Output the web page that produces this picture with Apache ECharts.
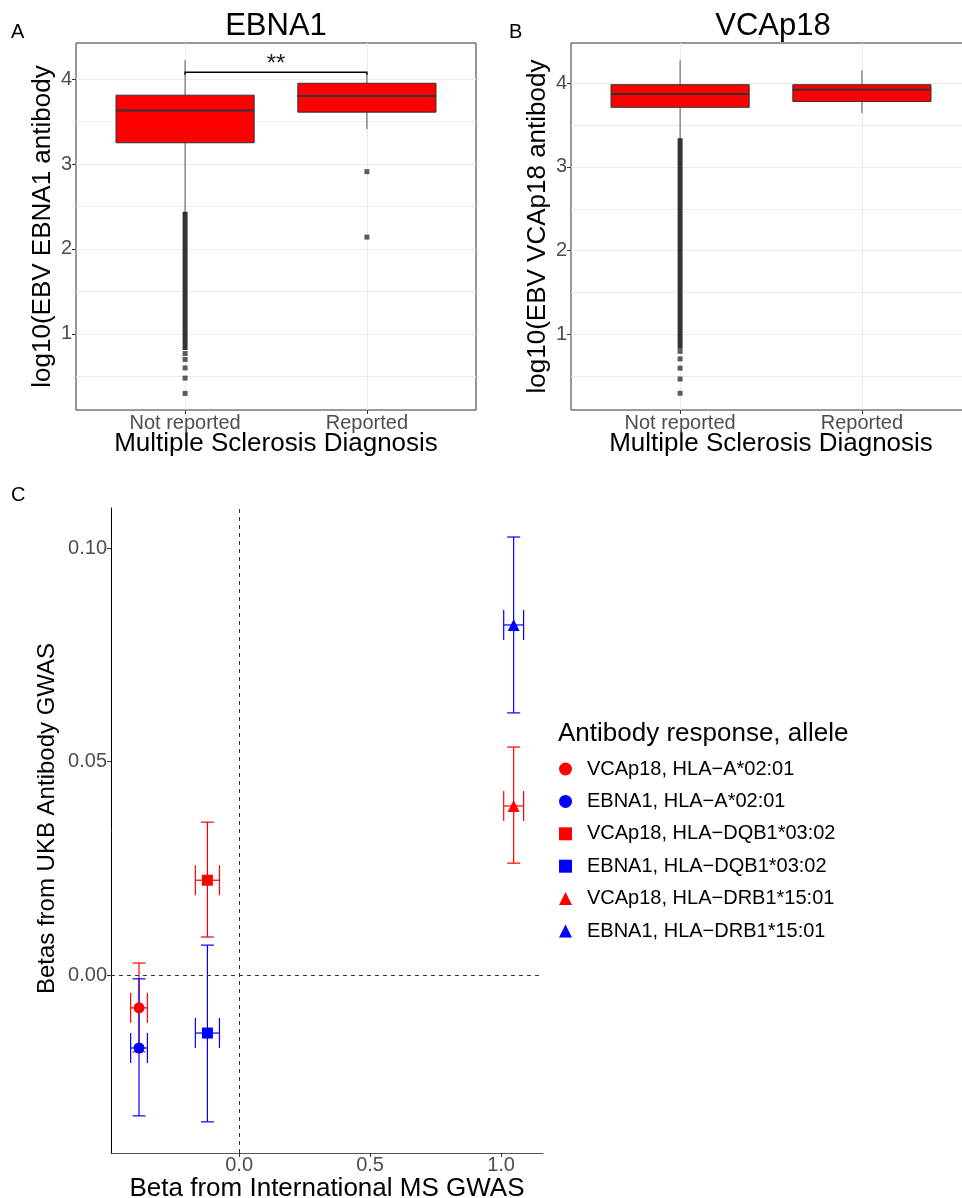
<!DOCTYPE html>
<html><head><meta charset="utf-8">
<script src="https://cdn.jsdelivr.net/npm/echarts@6/dist/echarts.min.js"></script>
<style>html,body{margin:0;padding:0;background:#fff}#c{width:962px;height:1198px}</style>
</head><body><div id="c"></div>
<script>
// ---------------- DATA ----------------
const categories = ['Not reported', 'Reported'];
const categoryPos = [1, 2];
// box stats: [lower whisker, Q1, median, Q3, upper whisker]
const ebnaBox = [[2.41, 3.25, 3.63, 3.81, 4.22], [3.41, 3.61, 3.80, 3.95, 4.07]];
const vcaBox  = [[3.32, 3.71, 3.87, 3.98, 4.27], [3.64, 3.78, 3.92, 3.98, 4.15]];
// dense outlier runs: [category index, low, high]
const ebnaDenseOutliers = [[0, 0.84, 2.41]];
const vcaDenseOutliers  = [[0, 0.86, 3.31]];
// individual outliers: [category index, value]
const ebnaOutliers = [[0, 0.77], [0, 0.70], [0, 0.60], [0, 0.48], [0, 0.30], [1, 2.91], [1, 2.14]];
const vcaOutliers  = [[0, 0.80], [0, 0.71], [0, 0.60], [0, 0.47], [0, 0.30]];
// significance bracket: [cat a, cat b, y]
const ebnaSignif = [[0, 1, 4.08]];
const ebnaSignifLabel = '**';
const boxYTicks = [1, 2, 3, 4];
const boxYGrid = [0.5, 1, 1.5, 2, 2.5, 3, 3.5, 4];

// Panel C
const seriesNames = ['VCAp18, HLA\u2212A*02:01', 'EBNA1, HLA\u2212A*02:01',
  'VCAp18, HLA\u2212DQB1*03:02', 'EBNA1, HLA\u2212DQB1*03:02',
  'VCAp18, HLA\u2212DRB1*15:01', 'EBNA1, HLA\u2212DRB1*15:01'];
const msBeta    = [-0.382, -0.382, -0.121, -0.121, 1.048, 1.048];
const msBetaErr = [0.032, 0.032, 0.046, 0.046, 0.038, 0.038];
const ukbBeta   = [-0.0077, -0.0171, 0.0222, -0.0136, 0.0396, 0.0820];
const ukbLow    = [-0.0180, -0.0330, 0.0089, -0.0344, 0.0262, 0.0614];
const ukbHigh   = [0.0028, -0.0009, 0.0358, 0.0070, 0.0534, 0.1026];
const cXTicks = [0, 0.5, 1.0];
const cYTicks = [0, 0.05, 0.10];
const refLineX = [0];
const refLineY = [0];

// ---------------- STYLE ----------------
const FONT = "'Liberation Sans', Arial, sans-serif";
const RED = '#ff0000', BLUE = '#0000ff';
const seriesColors = [RED, BLUE, RED, BLUE, RED, BLUE];
const seriesSymbols = ['circle', 'circle', 'rect', 'rect', 'triangle', 'triangle'];
const seriesSymbolSize = [11, 11, 11, 11, 12, 12];
const BOX_WIDTH = 0.76;
const GRID_COLOR = '#ebebeb';
const TICK_LABEL = {fontSize: 20, color: '#4d4d4d', fontFamily: FONT};

const chart = echarts.init(document.getElementById('c'), null, {renderer: 'canvas', width: 962, height: 1198});

function renderBox(params, api) {
  const x = api.value(0);
  const lo = api.value(1), q1 = api.value(2), med = api.value(3), q3 = api.value(4), hi = api.value(5);
  const hw = api.size([BOX_WIDTH, 0])[0] / 2;
  const pHi = api.coord([x, hi]), pQ3 = api.coord([x, q3]), pMed = api.coord([x, med]);
  const pQ1 = api.coord([x, q1]), pLo = api.coord([x, lo]);
  return {type: 'group', children: [
    {type: 'line', shape: {x1: pHi[0], y1: pHi[1], x2: pQ3[0], y2: pQ3[1]}, style: {stroke: '#555', lineWidth: 1}},
    {type: 'line', shape: {x1: pQ1[0], y1: pQ1[1], x2: pLo[0], y2: pLo[1]}, style: {stroke: '#555', lineWidth: 1}},
    {type: 'rect', shape: {x: pQ3[0] - hw, y: pQ3[1], width: 2 * hw, height: pQ1[1] - pQ3[1]}, style: {fill: RED, stroke: '#333', lineWidth: 1}},
    {type: 'line', shape: {x1: pMed[0] - hw, y1: pMed[1], x2: pMed[0] + hw, y2: pMed[1]}, style: {stroke: '#333', lineWidth: 2}}
  ]};
}
function renderDense(params, api) {
  const x = api.value(0);
  const pLo = api.coord([x, api.value(1)]), pHi = api.coord([x, api.value(2)]);
  return {type: 'rect', shape: {x: pLo[0] - 2.5, y: pHi[1] - 2.5, width: 5, height: pLo[1] - pHi[1] + 5}, style: {fill: '#333'}};
}
function renderBracket(params, api) {
  const y = api.value(2);
  const p1 = api.coord([api.value(0), y]), p2 = api.coord([api.value(1), y]);
  const tip = api.size([0, 0.03])[1];
  return {type: 'group', children: [
    {type: 'polyline', shape: {points: [[p1[0], p1[1] + tip], p1, p2, [p2[0], p2[1] + tip]]}, style: {stroke: '#000', lineWidth: 1.4, fill: null}},
    {type: 'text', x: (p1[0] + p2[0]) / 2, y: p1[1] + 4, style: {text: ebnaSignifLabel, font: '24px ' + FONT, fill: '#222', textAlign: 'center', textVerticalAlign: 'bottom'}}
  ]};
}
function renderErr(params, api) {
  const x = api.value(0), y = api.value(1), xe = api.value(2), ylo = api.value(3), yhi = api.value(4);
  const c = seriesColors[params.dataIndex];
  const pLo = api.coord([x, ylo]), pHi = api.coord([x, yhi]);
  const pL = api.coord([x - xe, y]), pR = api.coord([x + xe, y]);
  const cw = 6.5, ch = 15;
  const st = {stroke: c, lineWidth: 1.2};
  return {type: 'group', children: [
    {type: 'line', shape: {x1: pLo[0], y1: pLo[1], x2: pHi[0], y2: pHi[1]}, style: st},
    {type: 'line', shape: {x1: pLo[0] - cw, y1: pLo[1], x2: pLo[0] + cw, y2: pLo[1]}, style: st},
    {type: 'line', shape: {x1: pHi[0] - cw, y1: pHi[1], x2: pHi[0] + cw, y2: pHi[1]}, style: st},
    {type: 'line', shape: {x1: pL[0], y1: pL[1], x2: pR[0], y2: pR[1]}, style: st},
    {type: 'line', shape: {x1: pL[0], y1: pL[1] - ch, x2: pL[0], y2: pL[1] + ch}, style: st},
    {type: 'line', shape: {x1: pR[0], y1: pR[1] - ch, x2: pR[0], y2: pR[1] + ch}, style: st}
  ]};
}

function boxXAxis(gridIndex) {
  return {
    gridIndex, type: 'value', min: 0.4, max: 2.6,
    axisLine: {show: false},
    axisTick: {show: true, customValues: categoryPos, length: 4, lineStyle: {color: '#333'}},
    axisLabel: Object.assign({customValues: categoryPos, margin: 3, formatter: v => categories[Math.round(v) - 1]}, TICK_LABEL),
    splitLine: {show: true, lineStyle: {color: GRID_COLOR, width: 1}},
    name: 'Multiple Sclerosis Diagnosis', nameLocation: 'middle', nameGap: 21, nameMoveOverlap: false,
    nameTextStyle: {fontSize: 26, color: '#000', fontFamily: FONT}
  };
}
function boxYAxes(gridIndex, min, max, title) {
  return [{
    gridIndex, type: 'value', min, max,
    axisLine: {show: false},
    axisTick: {show: true, customValues: boxYTicks, length: 4, lineStyle: {color: '#333'}},
    axisLabel: Object.assign({customValues: boxYTicks, margin: 4}, TICK_LABEL),
    splitLine: {show: false},
    name: title, nameLocation: 'middle', nameGap: 20, nameRotate: 90, nameMoveOverlap: false,
    nameTextStyle: {fontSize: 26, color: '#000', fontFamily: FONT}
  }, {
    gridIndex, type: 'value', min, max, position: 'left',
    axisLine: {show: false},
    axisTick: {show: false, customValues: boxYGrid},
    axisLabel: {show: false, customValues: boxYGrid},
    splitLine: {show: true, lineStyle: {color: GRID_COLOR, width: 1}}
  }];
}

const boxData = arr => arr.map((s, i) => [categoryPos[i]].concat(s));
const denseData = arr => arr.map(d => [categoryPos[d[0]], d[1], d[2]]);
const outData = arr => arr.map(d => [categoryPos[d[0]], d[1]]);

const series = [
  {type: 'custom', xAxisIndex: 0, yAxisIndex: 0, renderItem: renderBox, data: boxData(ebnaBox), z: 3},
  {type: 'custom', xAxisIndex: 0, yAxisIndex: 0, renderItem: renderDense, data: denseData(ebnaDenseOutliers), z: 4},
  {type: 'scatter', xAxisIndex: 0, yAxisIndex: 0, symbol: 'rect', symbolSize: 5, itemStyle: {color: '#333'}, data: outData(ebnaOutliers), z: 4},
  {type: 'custom', xAxisIndex: 0, yAxisIndex: 0, renderItem: renderBracket, data: ebnaSignif.map(d => [categoryPos[d[0]], categoryPos[d[1]], d[2]]), z: 5},
  {type: 'custom', xAxisIndex: 1, yAxisIndex: 2, renderItem: renderBox, data: boxData(vcaBox), z: 3},
  {type: 'custom', xAxisIndex: 1, yAxisIndex: 2, renderItem: renderDense, data: denseData(vcaDenseOutliers), z: 4},
  {type: 'scatter', xAxisIndex: 1, yAxisIndex: 2, symbol: 'rect', symbolSize: 5, itemStyle: {color: '#333'}, data: outData(vcaOutliers), z: 4},
  {type: 'line', xAxisIndex: 2, yAxisIndex: 4, data: [], silent: true,
    markLine: {silent: true, symbol: 'none', label: {show: false},
      lineStyle: {color: '#333', type: [4, 4], width: 1},
      data: refLineX.map(v => ({xAxis: v})).concat(refLineY.map(v => ({yAxis: v})))}},
  {type: 'custom', xAxisIndex: 2, yAxisIndex: 4, renderItem: renderErr, z: 3,
    data: msBeta.map((x, i) => [x, ukbBeta[i], msBetaErr[i], ukbLow[i], ukbHigh[i]])}
].concat(seriesNames.map((name, i) => ({
  type: 'scatter', name, xAxisIndex: 2, yAxisIndex: 4, symbol: seriesSymbols[i], symbolSize: seriesSymbolSize[i],
  itemStyle: {color: seriesColors[i], opacity: 1}, data: [[msBeta[i], ukbBeta[i]]], z: 5
})));

const option = {
  animation: false,
  textStyle: {fontFamily: FONT},
  title: [{text: 'Antibody response, allele', left: 553, top: 716, textStyle: {fontSize: 26, fontWeight: 'normal', color: '#000', fontFamily: FONT}}],
  graphic: [
    {type: 'text', x: 276, y: 26, style: {text: 'EBNA1', font: '31px ' + FONT, fill: '#000', textAlign: 'center', textVerticalAlign: 'middle'}},
    {type: 'text', x: 773, y: 26, style: {text: 'VCAp18', font: '31px ' + FONT, fill: '#000', textAlign: 'center', textVerticalAlign: 'middle'}},
    {type: 'text', x: 11, y: 32, style: {text: 'A', font: '20px ' + FONT, fill: '#000', textVerticalAlign: 'middle'}},
    {type: 'text', x: 509, y: 32, style: {text: 'B', font: '20px ' + FONT, fill: '#000', textVerticalAlign: 'middle'}},
    {type: 'text', x: 11, y: 495, style: {text: 'C', font: '20px ' + FONT, fill: '#000', textVerticalAlign: 'middle'}}
  ],
  legend: {
    orient: 'vertical', left: 554, top: 754, data: seriesNames,
    itemWidth: 13, itemHeight: 13, itemGap: 12.4,
    textStyle: {fontSize: 20, color: '#000', fontFamily: FONT, padding: [0, 0, 0, 10]}, selectedMode: false
  },
  grid: [
    {left: 76, top: 43, width: 400, height: 367, show: true, borderColor: '#333', borderWidth: 1, backgroundColor: 'transparent', outerBoundsMode: 'none', containLabel: false},
    {left: 571, top: 43, width: 400, height: 367, show: true, borderColor: '#333', borderWidth: 1, backgroundColor: 'transparent', outerBoundsMode: 'none', containLabel: false},
    {left: 111, top: 508, width: 432, height: 645, show: false, outerBoundsMode: 'none', containLabel: false}
  ],
  xAxis: [
    boxXAxis(0), boxXAxis(1),
    {gridIndex: 2, type: 'value', min: -0.489, max: 1.160,
      axisLine: {show: true, onZero: false, lineStyle: {color: '#555', width: 1}},
      axisTick: {show: true, customValues: cXTicks, length: 4, lineStyle: {color: '#333'}},
      axisLabel: Object.assign({customValues: cXTicks, margin: 2, formatter: v => v.toFixed(1)}, TICK_LABEL),
      splitLine: {show: false},
      name: 'Beta from International MS GWAS', nameLocation: 'middle', nameGap: 23, nameMoveOverlap: false,
      nameTextStyle: {fontSize: 26, color: '#000', fontFamily: FONT}}
  ],
  yAxis: boxYAxes(0, 0.105, 4.424, 'log10(EBV EBNA1 antibody')
    .concat(boxYAxes(1, 0.101, 4.477, 'log10(EBV VCAp18 antibody'))
    .concat([{gridIndex: 2, type: 'value', min: -0.0417, max: 0.1094,
      axisLine: {show: true, onZero: false, lineStyle: {color: '#000', width: 1}},
      axisTick: {show: true, customValues: cYTicks, length: 4, lineStyle: {color: '#333'}},
      axisLabel: Object.assign({customValues: cYTicks, margin: 4, formatter: v => v.toFixed(2)}, TICK_LABEL),
      splitLine: {show: false},
      name: 'Betas from UKB Antibody GWAS', nameLocation: 'middle', nameGap: 52, nameRotate: 90, nameMoveOverlap: false,
      nameTextStyle: {fontSize: 24, color: '#000', fontFamily: FONT, padding: [0, 0, 0, 24]}}]),
  series
};
chart.setOption(option);
</script></body></html>
